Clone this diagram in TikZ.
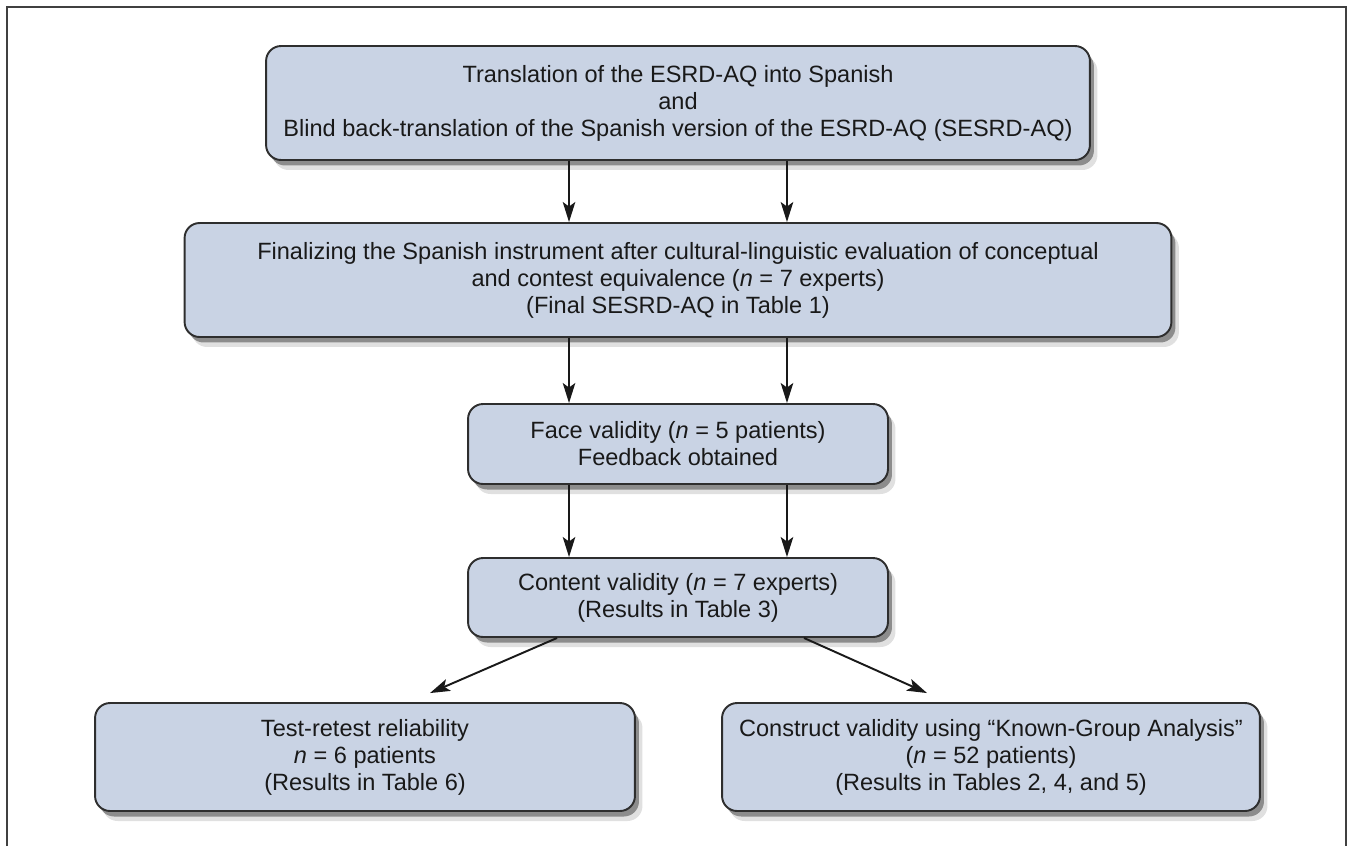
\documentclass[tikz,border=0pt]{standalone}
\usepackage{fontspec}
\setmainfont{Liberation Sans}
\usetikzlibrary{arrows.meta,shadows}
\definecolor{boxfill}{HTML}{C9D3E4}
\definecolor{boxline}{HTML}{2E2E2E}

\begin{document}
\begin{tikzpicture}[x=0.02cm,y=-0.02cm,
        stage/.style={draw=boxline,line width=1.1pt,fill=boxfill,rounded corners=0.3cm,align=center,inner sep=0pt,text=black!90,font=\fontsize{13.4}{15.4}\selectfont,
            drop shadow={shadow xshift=0.15cm,shadow yshift=-0.2cm,fill=black!60,opacity=0.2},
            drop shadow={shadow xshift=0.08cm,shadow yshift=-0.11cm,fill=black!85,opacity=0.45}},
        flow/.style={-{Stealth[length=0.4cm,width=0.25cm,inset=0.09cm]},line width=1.1pt,black!90}]
        \useasboundingbox(0,0)rectangle(1355,846);
        \draw[line width=1.1pt,black!75](7,846)--(7,7)--(1346,7)--(1346,846);

        \node[stage,minimum width=16.48cm,minimum height=2.28cm](trans)at(678,103){Translation of the ESRD-AQ into Spanish\\and\\Blind back-translation of the Spanish version of the ESRD-AQ (SESRD-AQ)};
        \node[stage,minimum width=19.74cm,minimum height=2.28cm](final)at(678,280){Finalizing the Spanish instrument after cultural-linguistic evaluation of conceptual\\and contest equivalence (\textit{n} = 7 experts)\\(Final SESRD-AQ in Table 1)};
        \node[stage,minimum width=8.4cm,minimum height=1.6cm](face)at(678,444){Face validity (\textit{n} = 5 patients)\\Feedback obtained};
        \node[stage,minimum width=8.4cm,minimum height=1.58cm](content)at(678,597.5){Content validity (\textit{n} = 7 experts)\\(Results in Table 3)};
        \node[stage,minimum width=10.8cm,minimum height=2.16cm](retest)at(365,757){Test-retest reliability\\\textit{n} = 6 patients\\(Results in Table 6)};
        \node[stage,minimum width=10.76cm,minimum height=2.16cm](construct)at(991,757){Construct validity using “Known-Group Analysis”\\(\textit{n} = 52 patients)\\(Results in Tables 2, 4, and 5)};

        \draw[flow]([xshift=-2.18cm]trans.south)--([xshift=-2.18cm]final.north);
        \draw[flow]([xshift=2.18cm]trans.south)--([xshift=2.18cm]final.north);
        \draw[flow]([xshift=-2.18cm]final.south)--([xshift=-2.18cm]face.north);
        \draw[flow]([xshift=2.18cm]final.south)--([xshift=2.18cm]face.north);
        \draw[flow]([xshift=-2.18cm]face.south)--([xshift=-2.18cm]content.north);
        \draw[flow]([xshift=2.18cm]face.south)--([xshift=2.18cm]content.north);
        \draw[flow]([xshift=-2.42cm]content.south)--([xshift=1.3cm,yshift=0.18cm]retest.north);
        \draw[flow]([xshift=2.52cm]content.south)--([xshift=-1.28cm,yshift=0.18cm]construct.north);
    \end{tikzpicture}
\end{document}
